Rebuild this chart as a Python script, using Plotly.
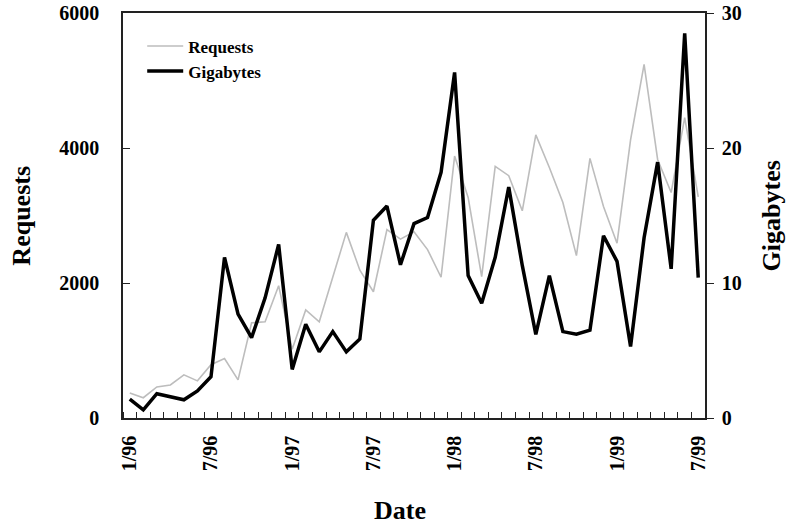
import plotly.graph_objects as go

# Monthly categories, 1/96 .. 7/99
months = [f"{m}/{y}" for y in (96, 97, 98, 99) for m in range(1, 13)][:43]

requests = [370, 300, 460, 490, 640, 550, 790, 880, 565, 1410, 1425, 1960,
            1020, 1600, 1425, 2070, 2750, 2190, 1870, 2790, 2650, 2760, 2495, 2085,
            3880, 3267, 2094, 3727, 3590, 3070, 4195, 3712, 3193, 2406, 3846, 3133,
            2590, 4120, 5240, 3830, 3340, 4450, 3275]

gigabytes = [1.4, 0.6, 1.8, 1.55, 1.35, 2.0, 3.05, 11.9, 7.7, 5.95, 8.9, 12.85,
             3.6, 6.95, 4.9, 6.4, 4.9, 5.85, 14.65, 15.7, 11.35, 14.4, 14.85, 18.2,
             25.6, 10.55, 8.5, 11.9, 17.1, 11.3, 6.2, 10.55, 6.4, 6.2, 6.5, 13.5,
             11.6, 5.3, 13.35, 18.95, 11.05, 28.5, 10.4]

tick_labels = ["1/96", "7/96", "1/97", "7/97", "1/98", "7/98", "1/99", "7/99"]

idx = list(range(len(months)))
tickvals = [months.index(t) for t in tick_labels]

FONT = "Liberation Serif"
AX = "#222222"

fig = go.Figure()
fig.add_trace(go.Scatter(x=idx, y=requests, name="Requests", mode="lines",
                         line=dict(color="#bdbdbd", width=1.6), yaxis="y"))
fig.add_trace(go.Scatter(x=idx, y=gigabytes, name="Gigabytes", mode="lines",
                         line=dict(color="#000000", width=3.5), yaxis="y2"))

fig.update_layout(
    width=793, height=532,
    margin=dict(l=123, r=88, t=13, b=114, autoexpand=False),
    paper_bgcolor="white", plot_bgcolor="white",
    font=dict(family=FONT, size=20, color="black", weight="bold"),
    showlegend=True,
    legend=dict(x=0.033, y=0.962, xanchor="left", yanchor="top",
                bgcolor="rgba(0,0,0,0)", font=dict(size=17, family=FONT, weight="bold"),
                tracegroupgap=0, itemwidth=36),
    xaxis=dict(range=[-0.5, len(months) - 0.5], tickmode="array",
               tickvals=tickvals, ticktext=tick_labels, tickangle=-90,
               ticks="", showgrid=False, zeroline=False, automargin=False,
               showline=True, linecolor=AX, linewidth=1.5, mirror=True,
               ticklabelstandoff=8,
               minor=dict(tick0=-0.5, dtick=1, ticks="inside", ticklen=6,
                          tickcolor=AX, tickwidth=1, showgrid=False)),
    yaxis=dict(range=[0, 6000], tickvals=[0, 2000, 4000, 6000], ticks="inside",
               ticklen=7, tickcolor=AX, showgrid=False, zeroline=False, automargin=False,
               showline=True, linecolor=AX, linewidth=1.5, ticklabelstandoff=18),
    yaxis2=dict(range=[0, 30], tickvals=[0, 10, 20, 30], ticks="outside",
                ticklen=7, tickcolor=AX, overlaying="y", side="right", automargin=False,
                showgrid=False, zeroline=False, showline=True, linecolor=AX,
                linewidth=1.5, ticklabelstandoff=4),
    annotations=[
        dict(text="Requests", xref="paper", yref="paper", x=-0.175, y=0.5,
             textangle=-90, showarrow=False, font=dict(size=26, family=FONT, weight="bold"),
             xanchor="center", yanchor="middle"),
        dict(text="Gigabytes", xref="paper", yref="paper", x=1.115, y=0.5,
             textangle=-90, showarrow=False, font=dict(size=26, family=FONT, weight="bold"),
             xanchor="center", yanchor="middle"),
        dict(text="Date", xref="paper", yref="paper", x=(400 - 123) / 582, y=-(510 - 418) / 405,
             showarrow=False, font=dict(size=26, family=FONT, weight="bold"),
             xanchor="center", yanchor="middle"),
    ],
)

fig.write_html("out.html")
